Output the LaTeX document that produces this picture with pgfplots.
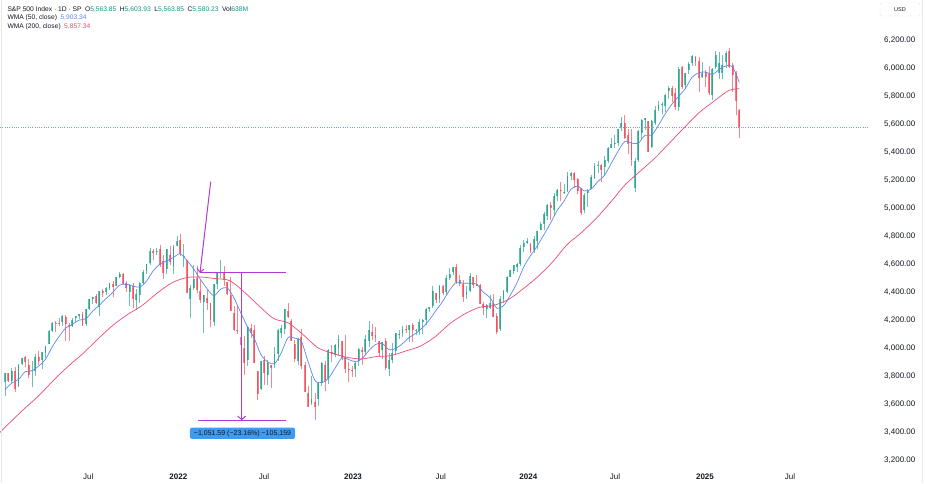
\documentclass[border=0pt]{standalone}
\usepackage{fontspec}
\setmainfont{Liberation Sans}
\usepackage{pgfplots}
\usepackage{pgfplotstable}
\pgfplotsset{compat=1.18}
\usetikzlibrary{arrows.meta}

\definecolor{tvtext}{HTML}{131722}
\definecolor{tvgreen}{HTML}{089981}
\definecolor{tvred}{HTML}{F23645}
\definecolor{wmablue}{HTML}{5A88F0}
\definecolor{wmapink}{HTML}{EE4B73}
\definecolor{drawpurple}{HTML}{B03CD4}
\definecolor{boxblue}{HTML}{3D9BF2}
\definecolor{priceline}{HTML}{7B9BE6}

% weekly candles of the S&P 500, k = week number from Jan 2021
% rising weeks (close >= open)
\pgfplotstableread{
k o h l c
0 3764 3827 3663 3825
2 3768 3861 3755 3841
4 3732 3894 3726 3887
5 3892 3937 3885 3934
8 3842 3914 3723 3842
9 3844 3960 3806 3943
11 3916 3978 3854 3975
12 3971 4020 3936 4020
13 4034 4130 4034 4129
14 4127 4191 4118 4185
17 4191 4238 4160 4233
20 4159 4219 4156 4204
21 4216 4234 4188 4230
22 4230 4249 4214 4247
24 4174 4287 4165 4281
25 4285 4356 4278 4352
26 4355 4372 4321 4370
28 4296 4415 4233 4412
30 4406 4440 4384 4437
31 4437 4468 4417 4468
33 4450 4513 4448 4509
34 4513 4546 4508 4535
37 4403 4465 4306 4455
39 4348 4429 4278 4391
40 4385 4475 4329 4471
41 4471 4559 4460 4545
42 4553 4608 4537 4605
43 4610 4718 4595 4697
45 4689 4718 4672 4698
48 4572 4713 4532 4712
50 4588 4740 4532 4726
51 4733 4808 4733 4766
53 4655 4749 4582 4663
55 4356 4453 4222 4432
56 4431 4595 4419 4501
59 4332 4386 4114 4385
62 4188 4465 4162 4463
63 4462 4546 4424 4543
64 4541 4637 4507 4546
72 3920 4158 3875 4158
76 3715 3913 3705 3912
78 3815 3918 3742 3899
80 3883 4013 3860 3962
81 3965 4141 3913 4130
82 4113 4168 4079 4145
83 4141 4280 4107 4280
87 3910 4076 3887 4067
91 3610 3807 3599 3639
93 3638 3765 3591 3752
94 3753 3905 3733 3901
96 3780 4001 3750 3993
98 3956 4034 3938 4026
99 4005 4101 3948 4072
104 3853 3906 3795 3895
105 3910 4003 3877 3999
107 3979 4095 3958 4071
108 4054 4195 4015 4136
112 3992 4049 3925 4045
114 3855 3970 3808 3917
115 3917 4039 3901 3971
116 3982 4110 3952 4109
117 4102 4133 4069 4105
118 4110 4164 4086 4138
120 4134 4170 4049 4169
122 4124 4143 4099 4124
123 4126 4212 4099 4192
124 4190 4212 4103 4205
125 4206 4290 4166 4282
126 4282 4299 4260 4299
127 4304 4448 4292 4410
129 4355 4458 4328 4450
131 4405 4528 4385 4505
132 4506 4578 4490 4536
133 4550 4582 4527 4582
137 4380 4447 4356 4406
138 4415 4541 4404 4516
143 4285 4322 4216 4309
144 4290 4386 4283 4327
147 4140 4374 4128 4358
148 4358 4418 4329 4415
149 4407 4521 4399 4514
150 4514 4561 4511 4559
151 4555 4595 4537 4595
152 4587 4609 4546 4604
153 4604 4738 4590 4719
154 4725 4778 4688 4755
155 4758 4793 4751 4770
157 4703 4802 4683 4784
158 4772 4842 4714 4840
159 4848 4903 4845 4891
160 4888 4975 4845 4959
161 4950 5031 4919 5027
163 4989 5111 4946 5089
164 5094 5140 5056 5137
166 5112 5179 5105 5117
167 5124 5261 5117 5234
168 5235 5265 5203 5254
172 4988 5114 4968 5100
173 5115 5140 5011 5128
174 5142 5239 5142 5223
175 5221 5325 5211 5303
176 5305 5342 5257 5305
178 5297 5375 5235 5347
179 5341 5441 5324 5431
180 5431 5505 5431 5465
181 5460 5524 5433 5460
182 5471 5570 5446 5567
183 5573 5655 5553 5615
187 5151 5360 5119 5344
188 5346 5563 5331 5554
189 5544 5643 5497 5635
190 5636 5651 5560 5648
192 5442 5636 5434 5626
193 5615 5733 5601 5703
194 5711 5767 5698 5738
195 5738 5765 5674 5751
196 5737 5822 5694 5815
197 5838 5878 5786 5864
200 5723 6013 5697 5996
202 5886 5972 5853 5969
203 5992 6045 5963 6032
204 6040 6099 6018 6090
207 5942 6050 5935 5971
210 5812 6004 5773 5997
211 6015 6128 5999 6101
212 5969 6120 5923 6041
213 5969 6101 5923 6026
214 6049 6128 6003 6115
}\up

% falling weeks (close < open)
\pgfplotstableread{
k o h l c
1 3824 3826 3764 3768
3 3841 3870 3694 3714
6 3939 3950 3866 3906
7 3885 3929 3789 3811
10 3940 3983 3884 3913
15 4183 4195 4118 4180
16 4185 4219 4164 4181
18 4228 4238 4057 4174
19 4169 4187 4056 4156
23 4248 4261 4164 4166
27 4373 4393 4321 4327
29 4409 4429 4367 4395
32 4462 4480 4367 4442
35 4535 4541 4459 4459
36 4469 4486 4406 4433
38 4449 4466 4288 4357
44 4701 4714 4630 4683
46 4712 4743 4586 4595
47 4628 4672 4495 4538
49 4669 4731 4600 4621
52 4778 4819 4662 4677
54 4632 4632 4395 4398
57 4505 4590 4401 4419
58 4412 4490 4327 4349
60 4363 4416 4279 4329
61 4323 4325 4157 4204
65 4547 4593 4450 4488
66 4474 4477 4381 4393
67 4385 4513 4268 4272
68 4255 4308 4124 4132
69 4130 4307 4106 4123
70 4081 4082 3859 4024
71 4008 4090 3810 3901
73 4151 4178 4074 4109
74 4134 4169 3900 3901
75 3838 3838 3636 3675
77 3920 3951 3738 3825
79 3880 3880 3722 3863
84 4271 4326 4218 4228
85 4195 4211 4057 4058
86 4034 4062 3907 3924
88 4083 4140 3857 3873
89 3880 3907 3693 3693
90 3682 3736 3584 3586
92 3619 3685 3491 3583
95 3880 3912 3698 3771
97 3977 4028 3906 3965
100 4052 4052 3918 3934
101 3940 4101 3828 3852
102 3854 3906 3765 3845
103 3843 3878 3800 3840
106 3990 4015 3885 3973
109 4119 4176 4060 4090
110 4098 4156 4047 4079
111 4052 4052 3944 3970
113 4055 4079 3847 3862
119 4140 4169 4114 4133
121 4166 4187 4048 4136
128 4396 4400 4328 4348
130 4450 4456 4385 4399
134 4584 4607 4464 4478
135 4492 4527 4448 4464
136 4459 4490 4335 4370
139 4511 4511 4430 4457
140 4463 4527 4448 4450
141 4453 4465 4316 4320
142 4320 4337 4238 4288
145 4327 4393 4223 4224
146 4232 4255 4103 4117
156 4745 4755 4682 4697
162 5026 5048 4920 5006
165 5131 5190 5058 5124
169 5258 5264 5147 5204
170 5215 5222 5107 5123
171 5150 5150 4953 4967
177 5315 5316 5191 5278
184 5614 5670 5497 5505
185 5525 5566 5390 5459
186 5477 5566 5305 5347
191 5623 5624 5402 5408
198 5860 5878 5762 5808
199 5826 5862 5706 5729
201 6009 6017 5853 5871
205 6085 6088 6016 6051
206 6058 6085 5832 5931
208 5975 5994 5869 5942
209 5969 6022 5809 5827
215 6123 6147 6008 6013
216 6026 6044 5837 5955
217 5968 5986 5667 5770
218 5705 5714 5504 5580
}\dn

\pgfplotsset{
  wick/.style={forget plot, draw=none, mark=none,
    error bars/.cd, y dir=plus, y explicit, error mark=none,
    error bar style={draw=#1, draw opacity=0.6, line width=0.6pt}},
  body/.style={forget plot, draw=none, mark=none,
    error bars/.cd, y dir=plus, y explicit, error mark=none,
    error bar style={draw=#1, draw opacity=0.65, line width=1.9pt}},
}

\begin{document}
\begin{tikzpicture}[x=1pt,y=1pt]
\path[use as bounding box] (0,0) rectangle (925,483);
\begin{axis}[
  at={(0pt,17pt)}, anchor=south west,
  scale only axis, width=868pt, height=466pt,
  xmin=-1.5, xmax=256.22, ymin=3162.1, ymax=6490.7,
  axis line style={draw=none}, tick style={draw=none}, major tick length=0pt,
  xtick={24.72,51.44,76.89,103.31,129.35,155.36,181.10,207.82,233.06},
  xticklabels={Jul,\textbf{2022},Jul,\textbf{2023},Jul,\textbf{2024},Jul,\textbf{2025},Jul},
  ytick={3200,3400,3600,3800,4000,4200,4400,4600,4800,5000,5200,5400,5600,5800,6000,6200},
  yticklabels={{3,200.00},{3,400.00},{3,600.00},{3,800.00},{4,000.00},{4,200.00},{4,400.00},{4,600.00},{4,800.00},{5,000.00},{5,200.00},{5,400.00},{5,600.00},{5,800.00},{6,000.00},{6,200.00}},
  yticklabel pos=right,
  ticklabel style={font=\fontsize{8}{9}\selectfont, text=tvtext},
  xticklabel style={anchor=base, yshift=-13.5pt, inner sep=0pt},
  yticklabel style={anchor=west, xshift=16pt, inner sep=0pt},
]
% wicks
\addplot[wick=tvgreen] table[x=k, y=l, y error expr=\thisrow{h}-\thisrow{l}] {\up};
\addplot[wick=tvred] table[x=k, y=l, y error expr=\thisrow{h}-\thisrow{l}] {\dn};
% bodies
\addplot[body=tvgreen] table[x=k, y=o, y error expr={max(\thisrow{c}-\thisrow{o},6)}] {\up};
\addplot[body=tvred] table[x=k, y=c, y error expr={max(\thisrow{o}-\thisrow{c},6)}] {\dn};

% WMA (200, close)
\addplot[wmapink, line width=0.7pt, mark=none, smooth] coordinates {
(-2.7,3373) (1.73,3479) (6.16,3581) (10.16,3668) (14.59,3779) (18.87,3877)
(23.3,3969) (27.59,4070) (32.01,4167) (36.44,4245) (40.73,4309) (45.16,4397)
(49.44,4469) (53.87,4508) (58.3,4512) (62.3,4501) (66.73,4486) (71.01,4405)
(75.44,4305) (79.73,4216) (84.16,4183) (88.59,4098) (92.87,4007) (97.3,3967)
(101.59,3938) (106.01,3927) (110.44,3945) (114.44,3950) (118.87,3983) (123.16,4017)
(127.59,4083) (131.87,4175) (136.3,4246) (140.73,4295) (145.01,4309) (149.44,4351)
(153.73,4426) (158.16,4514) (162.59,4620) (166.73,4740) (171.16,4830) (175.44,4929)
(179.87,5049) (184.16,5172) (188.59,5268) (193.01,5363) (197.3,5470) (201.73,5581)
(206.01,5685) (210.44,5767) (214.87,5844) (218.0,5857)};

% WMA (50, close)
\addplot[wmablue, line width=0.7pt, mark=none, smooth] coordinates {
(0,3708) (2,3754) (4,3781) (6,3836) (8,3842) (10,3876) (12,3924) (14,4013)
(16,4086) (18,4147) (20,4174) (22,4204) (24,4214) (26,4267) (28,4311) (30,4358)
(32,4403) (34,4454) (36,4461) (38,4447) (40,4440) (42,4483) (44,4557) (46,4604)
(48,4627) (50,4652) (52,4678) (54,4630) (56,4570) (58,4495) (60,4428) (62,4378)
(64,4425) (66,4434) (68,4361) (70,4256) (72,4156) (74,4074) (76,3956) (78,3905)
(80,3893) (82,3970) (84,4079) (86,4075) (88,4051) (90,3905) (92,3774) (94,3758)
(96,3787) (98,3862) (100,3933) (102,3923) (104,3907) (106,3929) (108,3986) (110,4030)
(112,4037) (114,3993) (116,4002) (118,4036) (120,4080) (122,4110) (124,4152) (126,4206)
(128,4275) (130,4340) (132,4419) (134,4474) (136,4467) (138,4468) (140,4461) (142,4403)
(144,4365) (146,4289) (148,4307) (150,4382) (152,4470) (154,4584) (156,4664) (158,4734)
(160,4814) (162,4899) (164,4990) (166,5056) (168,5138) (170,5162) (172,5127) (174,5140)
(176,5194) (178,5239) (180,5325) (182,5410) (184,5480) (186,5469) (188,5467) (190,5524)
(192,5525) (194,5597) (196,5677) (198,5747) (200,5802) (202,5859) (204,5939) (206,5971)
(208,5977) (210,5959) (212,5994) (214,6020) (216,6014) (218,5902)};

% last price line
\addplot[priceline, line width=0.6pt, dash pattern=on 0.7pt off 1.6pt, forget plot] coordinates {(-1.5,5580.23) (256.22,5580.23)};

% measure drawing
\draw[draw=drawpurple, line width=1pt] (axis cs:57.88,4540.7) -- (axis cs:83.42,4540.7);
\draw[draw=drawpurple, line width=1pt] (axis cs:57.29,3489.1) -- (axis cs:83.42,3489.1);
\draw[draw=drawpurple, line width=1pt, -{Straight Barb[length=3.5pt,width=8pt]}] (axis cs:70.26,4540.7) -- (axis cs:70.26,3489.1);
\draw[draw=drawpurple, line width=1pt, -{Straight Barb[length=3.5pt,width=7pt]}] (axis cs:61.06,5193) -- (axis cs:57.88,4540.7);
\node[fill=boxblue, rounded corners=2pt, minimum width=105pt, minimum height=11.3pt, inner sep=0pt,
  text=tvtext, font=\fontsize{7}{8}\selectfont] at (axis cs:70.5,3396) {−1,051.59 (−23.16\%) −105,159};
\end{axis}

% panel edges
\draw[gray!18, line width=0.6pt] (1,0) -- (1,483);
\draw[gray!18, line width=0.6pt] (922,0) -- (922,483);

% legend text
\node[anchor=base west, inner sep=0pt, font=\fontsize{6.7}{8}\selectfont, text=tvtext] at (7.3,471.5)
  {S\&P 500 Index · 1D · SP\hspace{3.5pt}O\textcolor{tvgreen}{5,563.85}\hspace{3.5pt}H\textcolor{tvgreen}{5,603.93}\hspace{3.5pt}L\textcolor{tvgreen}{5,563.85}\hspace{3.5pt}C\textcolor{tvgreen}{5,580.23}\hspace{3.5pt}Vol\textcolor{tvgreen}{638M}};
\node[anchor=base west, inner sep=0pt, font=\fontsize{6.7}{8}\selectfont, text=tvtext] at (7.3,463)
  {WMA (50, close)\hspace{3.5pt}\textcolor{wmablue}{5,903.34}};
\node[anchor=base west, inner sep=0pt, font=\fontsize{6.7}{8}\selectfont, text=tvtext] at (7.3,454)
  {WMA (200, close)\hspace{3.5pt}\textcolor{wmapink}{5,857.34}};

% currency box
\node[draw=gray!20, rounded corners=2pt, minimum width=40pt, minimum height=13pt, inner sep=0pt,
  font=\fontsize{5.5}{6}\selectfont, text=tvtext] at (900,473.5) {USD};
\end{tikzpicture}
\end{document}
